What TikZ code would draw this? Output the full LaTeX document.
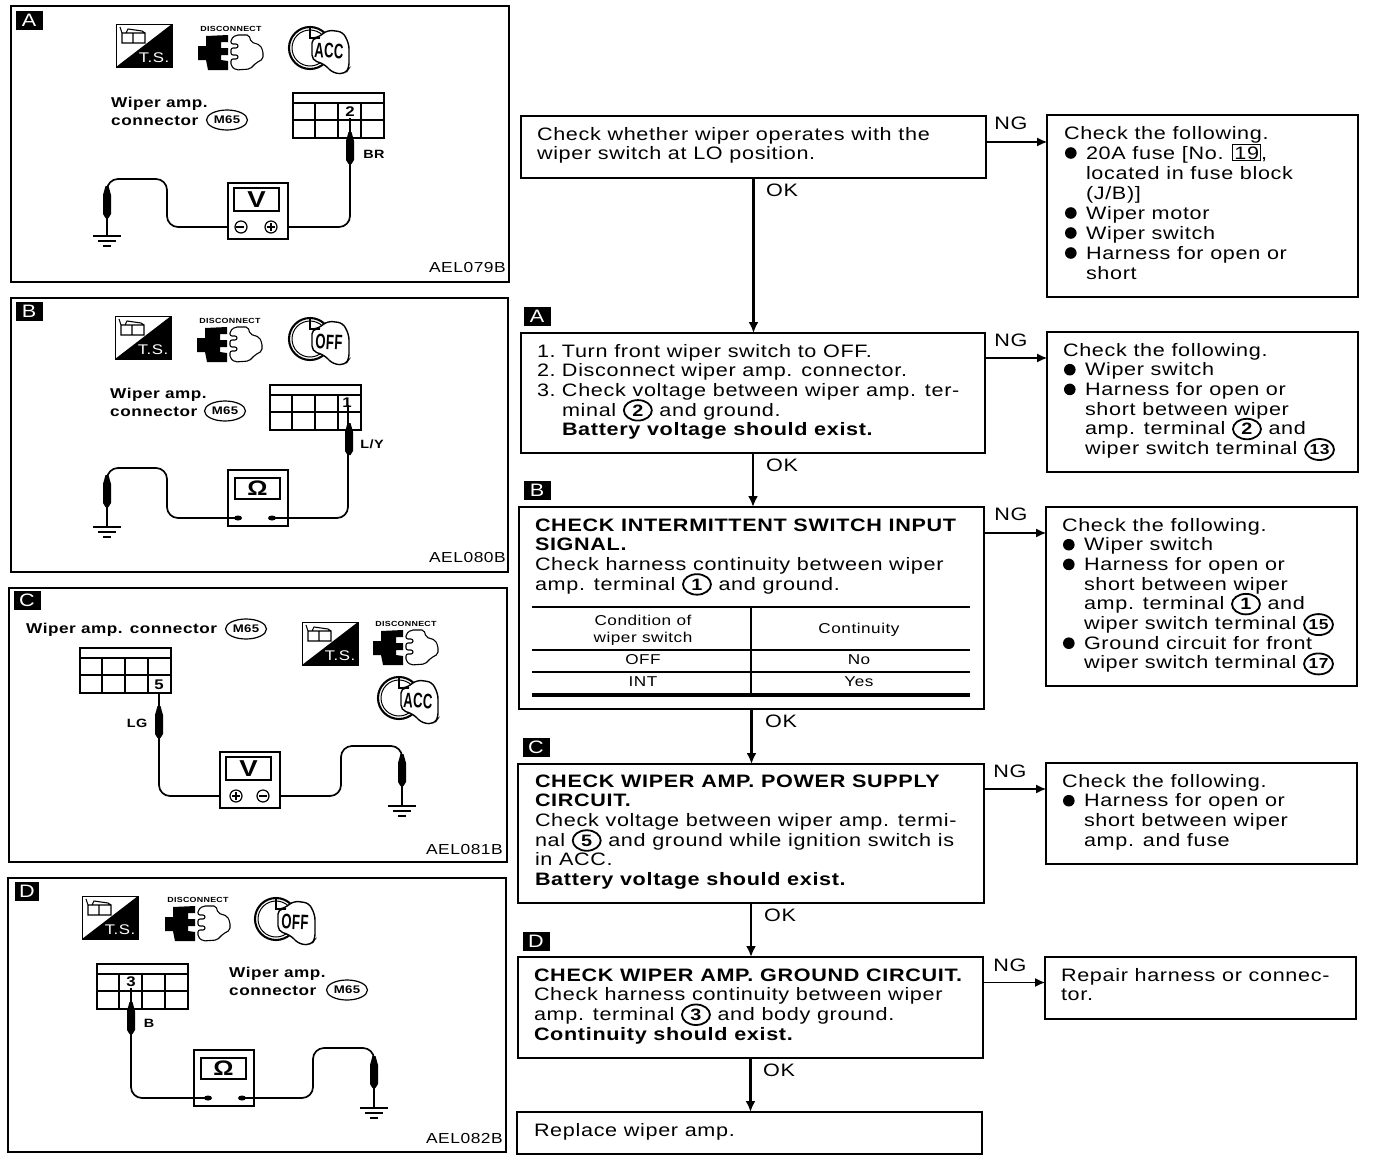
\documentclass[tikz,border=0pt]{standalone}
\usepackage{fontspec}
\setmainfont{Liberation Sans}[FakeStretch=1.2,LetterSpace=3.7]
\usetikzlibrary{arrows.meta,shapes.geometric}
\newcommand{\fs}[1]{\fontsize{#1}{#1}\selectfont}
\newcommand{\cn}[1]{\raisebox{0pt}[0pt][0pt]{\tikz[baseline=(cnn.base)]\node[ellipse,draw,line width=1.8pt,inner sep=0pt,minimum width=28pt,minimum height=20.5pt,font=\fs{16.5}\bfseries] (cnn) {#1};}}
\newcommand{\cnb}[1]{\raisebox{0pt}[0pt][0pt]{\tikz[baseline=(cnn.base)]\node[ellipse,draw,line width=1.8pt,inner sep=0pt,minimum width=29pt,minimum height=21pt,font=\fs{14.5}\bfseries] (cnn) {#1};}}
\newcommand{\bul}{\makebox[22pt][l]{\hspace{1pt}\tikz[baseline=-6pt]\fill[black] (0pt,0pt) circle[radius=5.8pt];}}
\newcommand{\ind}{\hspace*{22pt}}
\newcommand{\st}{\rule{0pt}{14pt}}
\newcommand{\nb}[1]{\makebox[25pt][l]{#1}}
\tikzset{
 flow/.style={draw,line width=1.9pt,inner sep=0pt,outer sep=0pt,fill=white},
 txt/.style={anchor=north west,inner sep=0pt,outer sep=0pt,align=left,font=\fontsize{18}{19.7}\selectfont},
 lbl/.style={inner sep=0pt,font=\fs{18}},
 tag/.style={fill=black,text=white,inner sep=0pt,font=\fs{18},minimum width=27pt,minimum height=19pt},
 arr/.style={line width=2.2pt,-{Latex[length=11pt,width=10pt]}},
 narr/.style={line width=1.2pt,-{Latex[length=10pt,width=9pt]}},
 panel/.style={draw,line width=1.9pt,inner sep=0pt,outer sep=0pt},
 wire/.style={line width=1.7pt,rounded corners=11pt},
 small/.style={inner sep=0pt,font=\fs{14}\bfseries},
 plab/.style={inner sep=0pt,anchor=base west,font=\fs{14.3}\bfseries},
 tb/.style={inner sep=0pt,font=\fs{14.3}},
 ref/.style={anchor=east,inner sep=0pt,font=\fs{14.5}},
 ova/.style={draw,ellipse,line width=1.2pt,inner sep=0pt,minimum width=41pt,minimum height=20pt,font=\fs{11}\bfseries}
}
\newcommand{\bx}[6][flow]{\node[#1,minimum width={(#5-#3)*1pt},minimum height={(#6-#4)*1pt}] (#2) at ({(#3+#5)/2},{(#4+#6)/2}) {};}
\newcommand{\tsicon}[2]{\begin{scope}[shift={(#1,#2)}]
 \draw[line width=1pt] (0,0) rectangle (56,43);
 \fill (56,0) -- (56,43) -- (0,43) -- cycle;
 \node[inner sep=0pt,text=white,font=\fs{14}] (tsl#1) at (38,34) {T.S.};
 \draw[line width=1.1pt] (6,9) rectangle (29,19) (17,9) -- (17,19) (6,9) -- (4,3) (10,9) -- (12,5) -- (26,7) -- (29,9);
\end{scope}}
\newcommand{\discicon}[2]{\begin{scope}[shift={(#1,#2)}]
 \node[inner sep=0pt,font=\fs{7.4}\bfseries] (dsl#1) at (33,5) {DISCONNECT};
 \fill (8,12) -- (30,11) -- (30,18) -- (23,18) -- (23,24) -- (30,24) -- (30,31) -- (23,31) -- (23,36) -- (30,37) -- (30,46) -- (10,46) -- (8,36) -- (0,36) -- (0,22) -- (8,22) -- cycle;
 \draw[line width=1.1pt,rounded corners=2pt] (33,15) -- (38,11) -- (51,11) -- (53,18) -- (62,21) -- (65,27) -- (65,35) -- (58,39) -- (52,45) -- (38,46) -- (33,42) -- (33,35) -- (40,35) -- (40,31) -- (33,31) -- (33,24) -- (40,24) -- (40,20) -- (33,20) -- cycle;
\end{scope}}
\newcommand{\keyicon}[3]{\begin{scope}[shift={(#1,#2)}]
 \draw[line width=2.1pt] (22,24) circle (21);
 \draw[line width=1pt] (22,24) circle (18);
 \filldraw[fill=white,line width=1.4pt,rounded corners=5pt] (29,14) -- (40,6) -- (55,8) -- (61,20) -- (61,44) -- (57,50) -- (45,49) -- (36,40) -- (24,36) -- (24,14) -- cycle;
 \draw[line width=1.4pt] (22,3) -- (22,14) -- (32,14);
 \node[inner sep=0pt,rotate=-3,xscale=.52,font=\fs{21}\bfseries] (kyl#1) at (41,27) {#3};
\end{scope}}
\newcommand{\meterV}[6]{\begin{scope}[shift={(#2,#3)}]
 \draw[line width=1.5pt] (0,0) rectangle (60,56);
 \draw[line width=1.5pt] (6,5) rectangle (51,28);
 \node[inner sep=0pt,font=\fs{23}\bfseries] (#1s) at (28.5,17) {V};
 \draw[line width=1.2pt,fill=white] (#5,44) circle (6);
 \draw[line width=1.2pt,fill=white] (#6,44) circle (6);
 \coordinate (#1-l) at (0,44); \coordinate (#1-r) at (60,44);
\end{scope}}
\newcommand{\meterO}[4]{\begin{scope}[shift={(#2,#3)}]
 \draw[line width=1.5pt] (0,0) rectangle (60,56);
 \draw[line width=1.5pt] (7,8) rectangle (52,29);
 \node[inner sep=0pt,font=\fs{21}\bfseries] (#1s) at (29.5,18) {\symbol{"03A9}};
 \fill (#4,48) ellipse (4 and 2.5);
 \fill ({#4+34},48) ellipse (4 and 2.5);
 \coordinate (#1-l) at (#4,48); \coordinate (#1-r) at ({#4+34},48);
\end{scope}}
\newcommand{\grid}[2]{\begin{scope}[shift={(#1,#2)}]
 \draw[line width=1.5pt] (0,0) rectangle (91,45);
 \draw[line width=1.4pt] (0,10) -- (91,10) (0,27) -- (91,27) (22,10) -- (22,45) (45,10) -- (45,45) (68,10) -- (68,45);
\end{scope}}
\newcommand{\probe}[2]{\fill (#1-1.5,#2-6) -- (#1+1.5,#2-6) -- (#1+4,#2+3) -- (#1+4,#2+22) -- (#1+1.5,#2+26) -- (#1-1.5,#2+26) -- (#1-4,#2+22) -- (#1-4,#2+3) -- cycle;}
\newcommand{\gnd}[2]{\draw[line width=1.4pt] (#1-14,#2) -- (#1+14,#2) (#1-9,#2+5) -- (#1+9,#2+5) (#1-4,#2+10) -- (#1+4,#2+10);}
\begin{document}
\begin{tikzpicture}[x=1pt,y=-1pt]
\useasboundingbox (0,0) rectangle (1376,1162);
\fill[white] (0,0) rectangle (1376,1162);
\bx[panel]{pa}{11}{6}{509}{282}
\bx[panel]{pb}{11}{298}{508}{572}
\bx[panel]{pc}{9}{588}{507}{862}
\bx[panel]{pd}{8}{878}{506}{1152}
\node[tag] (ta) at (29,20) {A};
\node[tag] (tb) at (29,311) {B};
\node[tag] (tc) at (27,600) {C};
\node[tag,minimum width=24pt] (td) at (27,891) {D};
% Panel A
\tsicon{116}{24}\discicon{198}{24}\keyicon{288}{24}{ACC}
\node[plab] (a1) at (111,107) {Wiper amp.};
\node[plab] (a2) at (111,125) {connector};
\node[ova] (a3) at (227,120) {M65};
\grid{293}{93}
\node[small] (a4) at (350,112) {2};
\node[small,font=\fs{12}\bfseries] (a5) at (374,154) {BR};
\meterV{ma}{228}{183}{V}{13}{43}
\coordinate (apin) at (350,118); \coordinate (agnd) at (107,236);
\draw[wire] (apin) |- (ma-r);
\draw[wire] (ma-l) -- (167,227) -- (167,179) -- (107,179) -- (agnd);
\probe{350}{138}\probe{107}{192}\gnd{107}{236}
\node[ref] (a6) at (506,268) {AEL079B};
% Panel B
\tsicon{115}{316}\discicon{197}{316}\keyicon{288}{315}{OFF}
\node[plab] (b1) at (110,398) {Wiper amp.};
\node[plab] (b2) at (110,416) {connector};
\node[ova] (b3) at (225,411) {M65};
\grid{270}{385}
\node[small] (b4) at (347,403) {1};
\node[small,font=\fs{12}\bfseries] (b5) at (372,444) {L/Y};
\meterO{mb}{228}{470}{10}
\coordinate (bpin) at (348,405); \coordinate (bgnd) at (107,527);
\draw[wire] (bpin) |- (mb-r);
\draw[wire] (mb-l) -- (167,518) -- (167,468) -- (107,468) -- (bgnd);
\probe{349}{429}\probe{107}{481}\gnd{107}{527}
\node[ref] (b6) at (506,558) {AEL080B};
% Panel C
\tsicon{302}{622}\discicon{373}{619}\keyicon{377}{674}{ACC}
\node[plab] (c1) at (26,633) {Wiper amp. connector};
\node[ova] (c3) at (246,629) {M65};
\grid{80}{648}
\node[small] (c4) at (159,685) {5};
\node[small,font=\fs{12}\bfseries] (c5) at (137,723) {LG};
\meterV{mc}{220}{752}{V}{16}{43}
\coordinate (cpin) at (159,692); \coordinate (cgnd) at (402,806);
\draw[wire] (cpin) |- (mc-l);
\draw[wire] (mc-r) -- (341,796) -- (341,746) -- (402,746) -- (cgnd);
\probe{159}{712}\probe{402}{760}\gnd{402}{806}
\node[ref] (c6) at (503,849) {AEL081B};
% Panel D
\tsicon{82}{896}\discicon{165}{895}\keyicon{254}{895}{OFF}
\node[plab] (d1) at (229,977) {Wiper amp.};
\node[plab] (d2) at (229,995) {connector};
\node[ova] (d3) at (347,990) {M65};
\grid{97}{964}
\node[small] (d4) at (131,982) {3};
\node[small,font=\fs{12}\bfseries] (d5) at (149,1023) {B};
\meterO{md}{194}{1050}{14}
\coordinate (dpin) at (131,988); \coordinate (dgnd) at (374,1108);
\draw[wire] (dpin) |- (md-l);
\draw[wire] (md-r) -- (313,1098) -- (313,1048) -- (374,1048) -- (dgnd);
\probe{131}{1008}\probe{374}{1062}\gnd{374}{1108}
\node[ref] (d6) at (503,1138) {AEL082B};
\draw[line width=1.1pt] (236,227)--(244,227) (267,227)--(275,227) (271,223)--(271,231);
\draw[line width=1.1pt] (232,796)--(240,796) (236,792)--(236,800) (259,796)--(267,796);
% flow boxes
\bx{f1}{521}{116}{986}{178}
\bx{fa}{521}{333}{985}{453}
\bx{fb}{519}{507}{984}{709}
\bx{fc}{518}{764}{984}{903}
\bx{fd}{518}{957}{983}{1058}
\bx{fe}{517}{1112}{982}{1154}
\bx{r1}{1047}{115}{1358}{297}
\bx{r2}{1047}{332}{1358}{472}
\bx{r3}{1046}{507}{1357}{686}
\bx{r4}{1046}{763}{1357}{864}
\bx{r5}{1045}{957}{1356}{1019}
\node[tag] (fta) at (537,316) {A};
\node[tag] (ftb) at (537,490) {B};
\node[tag] (ftc) at (536,747) {C};
\node[tag] (ftd) at (536,941) {D};
\draw[arr] (f1.south) -- (f1.south |- fa.north);
\draw[arr] (fa.south) -- (fa.south |- fb.north);
\draw[arr] (fb.south) -- (fb.south |- fc.north);
\draw[arr] (fc.south) -- (fc.south |- fd.north);
\draw[arr] (fd.south) -- (fd.south |- fe.north);
\draw[narr] ([yshift=5pt]f1.east) -- ([yshift=5pt]f1.east -| r1.west);
\draw[narr] ([yshift=35pt]fa.east) -- ([yshift=35pt]fa.east -| r2.west);
\draw[narr] ([yshift=75pt]fb.east) -- ([yshift=75pt]fb.east -| r3.west);
\draw[narr] ([yshift=44.5pt]fc.east) -- ([yshift=44.5pt]fc.east -| r4.west);
\draw[narr] ([yshift=25pt]fd.east) -- ([yshift=25pt]fd.east -| r5.west);
\foreach \nm/\x/\y in {ok1/782/190,ok2/782/465,ok3/781/721,ok4/780/915,ok5/779/1070}
  \node[lbl] (\nm) at (\x,\y) {OK};
\foreach \nm/\x/\y in {ng1/1011/123,ng2/1011/340,ng3/1011/514,ng4/1010/771,ng5/1010/965}
  \node[lbl] (\nm) at (\x,\y) {NG};
\node[txt] (tf1) at (537,126) {\st Check whether wiper operates with the\\wiper switch at LO position.};
\node[txt] (tfa) at (537,343) {\st\nb{1.}Turn front wiper switch to OFF.\\\nb{2.}Disconnect wiper amp. connector.\\\nb{3.}Check voltage between wiper amp. ter-\\\hspace*{25pt}minal \cn{2} and ground.\\\hspace*{25pt}\textbf{Battery voltage should exist.}};
\node[txt] (tfb) at (535,517) {\st\textbf{CHECK INTERMITTENT SWITCH INPUT}\\\textbf{SIGNAL.}\\Check harness continuity between wiper\\amp. terminal \cn{1} and ground.};
\node[txt] (tfc) at (535,773) {\st\textbf{CHECK WIPER AMP. POWER SUPPLY}\\\textbf{CIRCUIT.}\\Check voltage between wiper amp. termi-\\nal \cn{5} and ground while ignition switch is\\in ACC.\\\textbf{Battery voltage should exist.}};
\node[txt] (tfd) at (534,967) {\st\textbf{CHECK WIPER AMP. GROUND CIRCUIT.}\\Check harness continuity between wiper\\amp. terminal \cn{3} and body ground.\\\textbf{Continuity should exist.}};
\node[txt] (tfe) at (534,1122) {\st Replace wiper amp.};
\node[txt,font=\fontsize{18}{20}\selectfont] (tr1) at (1064,125) {\st Check the following.\\\bul 20A fuse [No. {\setlength{\fboxsep}{1pt}\setlength{\fboxrule}{1pt}\raisebox{0pt}[0pt][0pt]{\fbox{19}}},\\\ind located in fuse block\\\ind (J/B)]\\\bul Wiper motor\\\bul Wiper switch\\\bul Harness for open or\\\ind short};
\node[txt] (tr2) at (1063,342) {\st Check the following.\\\bul Wiper switch\\\bul Harness for open or\\\ind short between wiper\\\ind amp. terminal \cn{2} and\\\ind wiper switch terminal \cnb{13}};
\node[txt] (tr3) at (1062,517) {\st Check the following.\\\bul Wiper switch\\\bul Harness for open or\\\ind short between wiper\\\ind amp. terminal \cn{1} and\\\ind wiper switch terminal \cnb{15}\\\bul Ground circuit for front\\\ind wiper switch terminal \cnb{17}};
\node[txt] (tr4) at (1062,773) {\st Check the following.\\\bul Harness for open or\\\ind short between wiper\\\ind amp. and fuse};
\node[txt] (tr5) at (1061,967) {\st Repair harness or connec-\\tor.};
\draw[line width=2.6pt] (532,607) -- (970,607);
\draw[line width=1.6pt] (532,650) -- (970,650) (532,672) -- (970,672);
\draw[line width=3.2pt] (532,695) -- (970,695);
\draw[line width=1.6pt] (751,607) -- (751,695);
\node[tb] (q1) at (643,620) {Condition of};
\node[tb] (q2) at (643,639) {wiper switch};
\node[tb] (q3) at (859,630) {Continuity};
\node[tb] (q4) at (643,660) {OFF};
\node[tb] (q5) at (859,660) {No};
\node[tb] (q6) at (643,682) {INT};
\node[tb] (q7) at (859,682) {Yes};
\end{tikzpicture}
\end{document}
